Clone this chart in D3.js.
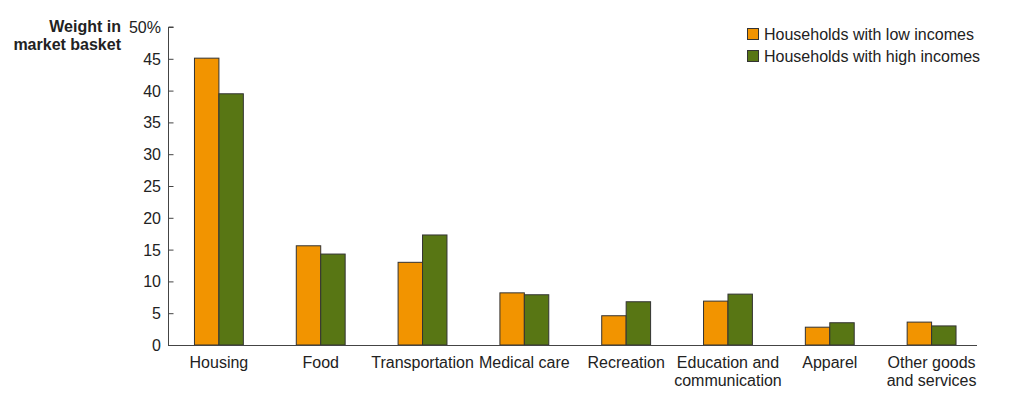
<!DOCTYPE html>
<html>
<head>
<meta charset="utf-8">
<script src="https://cdn.jsdelivr.net/npm/d3@7"></script>
<style>
  body { margin: 0; background: #fff; }
  svg { display: block; font-family: "Liberation Sans", Arial, sans-serif; }
</style>
</head>
<body>
<div id="chart"></div>
<script>
// Data
const categories = [
  ["Housing"],
  ["Food"],
  ["Transportation"],
  ["Medical care"],
  ["Recreation"],
  ["Education and", "communication"],
  ["Apparel"],
  ["Other goods", "and services"],
];
const lowIncome = [45.1, 15.6, 13.0, 8.2, 4.6, 6.9, 2.8, 3.6];
const highIncome = [39.5, 14.3, 17.3, 7.9, 6.8, 8.0, 3.5, 3.0];
const seriesNames = ["Households with low incomes", "Households with high incomes"];
const yTicks = [0, 5, 10, 15, 20, 25, 30, 35, 40, 45, 50];

const width = 1024;
const height = 402;
const colors = ["#f29400", "#587614"];
const textColor = "#222";
const fontSize = 16;

const svg = d3
  .select("#chart")
  .append("svg")
  .attr("width", width)
  .attr("height", height);

const labels = categories.map((d) => d.join(" "));

const xScale = d3
  .scaleBand()
  .domain(labels)
  .range([168, 982.5])
  .paddingInner(0.52)
  .paddingOuter(0.26);

const subScale = d3
  .scaleBand()
  .domain([0, 1])
  .range([0, xScale.bandwidth()]);

const yScale = d3.scaleLinear().domain([0, 50]).range([345, 27]);

// Bars
const rows = labels.map((label, i) => ({
  label,
  values: [lowIncome[i], highIncome[i]],
}));

const groups = svg
  .append("g")
  .selectAll("g")
  .data(rows)
  .join("g")
  .attr("transform", (d) => `translate(${xScale(d.label)},0)`);

groups
  .selectAll("rect")
  .data((d) => d.values.map((v, k) => ({ v, k })))
  .join("rect")
  .attr("x", (d) => subScale(d.k))
  .attr("y", (d) => yScale(d.v))
  .attr("width", subScale.bandwidth())
  .attr("height", (d) => yScale(0) - yScale(d.v))
  .attr("fill", (d) => colors[d.k])
  .attr("stroke", "#333")
  .attr("stroke-width", 1);

// Y axis (ticks point inward)
const yAxis = svg
  .append("g")
  .attr("transform", "translate(168.5,0)")
  .call(
    d3
      .axisRight(yScale)
      .tickValues(yTicks)
      .tickSize(5)
      .tickFormat(() => "")
  );
yAxis.select(".domain").attr("stroke", "#444").attr("d", `M5,${yScale(50)}H0V${yScale(0)}`);
yAxis.selectAll(".tick line").attr("stroke", "#444");

svg
  .append("g")
  .selectAll("text")
  .data(yTicks)
  .join("text")
  .attr("x", 161)
  .attr("y", (d) => yScale(d) + 6)
  .attr("text-anchor", "end")
  .attr("font-size", fontSize)
  .attr("fill", textColor)
  .text((d) => (d === 50 ? "50%" : d));

// X axis baseline
svg
  .append("line")
  .attr("x1", 168)
  .attr("x2", 977)
  .attr("y1", yScale(0) + 0.5)
  .attr("y2", yScale(0) + 0.5)
  .attr("stroke", "#444")
  .attr("stroke-width", 1.2);

// Category labels
const catLabels = svg
  .append("g")
  .selectAll("text")
  .data(categories)
  .join("text")
  .attr("x", (d, i) => xScale(labels[i]) + xScale.bandwidth() / 2)
  .attr("y", 368)
  .attr("text-anchor", "middle")
  .attr("font-size", fontSize)
  .attr("fill", textColor);

catLabels
  .selectAll("tspan")
  .data((d) => d)
  .join("tspan")
  .attr("x", function () {
    return d3.select(this.parentNode).attr("x");
  })
  .attr("dy", (d, i) => (i === 0 ? 0 : 18))
  .text((d) => d);

// Y title
svg
  .append("text")
  .attr("x", 121)
  .attr("y", 32)
  .attr("text-anchor", "end")
  .attr("font-size", fontSize)
  .attr("font-weight", "bold")
  .attr("fill", textColor)
  .selectAll("tspan")
  .data(["Weight in", "market basket"])
  .join("tspan")
  .attr("x", 121)
  .attr("dy", (d, i) => (i === 0 ? 0 : 18))
  .text((d) => d);

// Legend
const legend = svg
  .append("g")
  .selectAll("g")
  .data(seriesNames)
  .join("g")
  .attr("transform", (d, i) => `translate(747,${28 + i * 22})`);

legend
  .append("rect")
  .attr("x", 0.5)
  .attr("y", 0.5)
  .attr("width", 11)
  .attr("height", 11)
  .attr("fill", (d, i) => colors[i])
  .attr("stroke", "#333");

legend
  .append("text")
  .attr("x", 17)
  .attr("y", 11.5)
  .attr("font-size", fontSize)
  .attr("fill", textColor)
  .text((d) => d);
</script>
</body>
</html>
